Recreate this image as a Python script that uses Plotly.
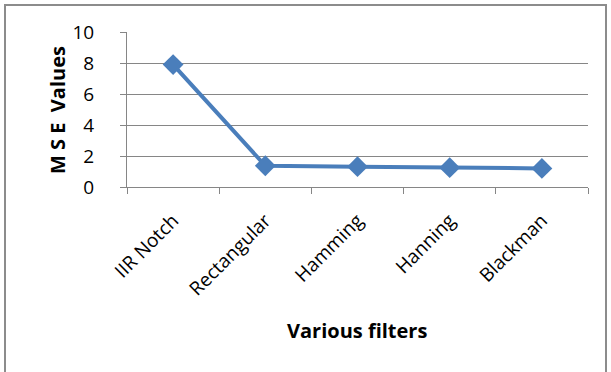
import plotly.graph_objects as go

filters = ["IIR Notch", "Rectangular", "Hamming", "Hanning", "Blackman"]
mse_values = [7.9, 1.37, 1.31, 1.25, 1.2]
y_ticks = [0, 2, 4, 6, 8, 10]

W, H = 611, 372
L, R, T, B = 127, 23, 32, 185
pw, ph = W - L - R, H - T - B

def px(x):
    return (x - L) / pw

def py(y):
    return (H - B - y) / ph

fig = go.Figure()
fig.add_trace(go.Scatter(
    x=filters, y=mse_values, mode="lines+markers",
    line=dict(color="#4A7EBB", width=4),
    marker=dict(symbol="diamond", size=16, color="#4A7EBB"),
    showlegend=False, cliponaxis=False,
))

font = "'Open Sans', Lato, sans-serif"
fig.update_layout(
    width=W, height=H,
    margin=dict(l=L, r=R, t=T, b=B, autoexpand=False),
    paper_bgcolor="white", plot_bgcolor="white",
    font=dict(family=font, color="#000000", size=17),
    xaxis=dict(
        type="category", range=[-0.5, len(filters) - 0.5],
        tickangle=-45, tickson="boundaries",
        ticks="outside", ticklen=6, tickcolor="#868686",
        showline=True, linecolor="#868686", linewidth=1,
        showgrid=False, tickfont=dict(size=19), automargin=False,
        ticklabelstandoff=14,
    ),
    yaxis=dict(
        range=[0, 10], tickvals=y_ticks, ticks="outside", ticklen=6,
        tickcolor="#868686", showline=True, linecolor="#868686",
        showgrid=True, gridcolor="#868686", gridwidth=1,
        zeroline=False, tickfont=dict(size=19), automargin=False,
        ticklabelstandoff=22,
    ),
    annotations=[
        dict(text="<b>Various filters</b>", xref="paper", yref="paper",
             x=px(357), y=py(330), showarrow=False, font=dict(size=20),
             xanchor="center", yanchor="middle"),
        dict(text="<b>M S E  Values</b>", xref="paper", yref="paper",
             x=px(58), y=py(110), showarrow=False, font=dict(size=20),
             textangle=-90, xanchor="center", yanchor="middle"),
    ],
    shapes=[
        dict(type="rect", xref="paper", yref="paper",
             x0=px(5), x1=px(606), y0=py(380), y1=py(5),
             line=dict(color="#8C8C8C", width=2), fillcolor="rgba(0,0,0,0)",
             layer="below"),
    ],
)

fig.write_html("out.html", post_script="document.body.style.margin='0';",
               config={"displayModeBar": False})
